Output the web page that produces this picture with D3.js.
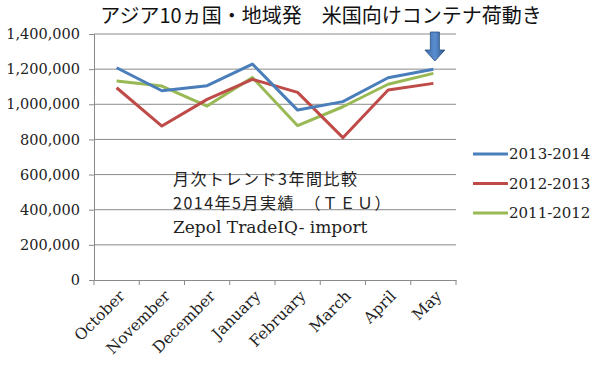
<!DOCTYPE html>
<html><head><meta charset="utf-8">
<script src="https://cdn.jsdelivr.net/npm/d3@7"></script>
<style>body{margin:0;background:#fff}</style>
</head><body><svg id="c" width="600" height="367"></svg>
<script>
const months = ["October","November","December","January","February","March","April","May"];
const s2013_2014 = [1208000,1077000,1106000,1229000,967000,1015000,1151000,1199000];
const s2012_2013 = [1094000,876000,1028000,1142000,1068000,810000,1081000,1119000];
const s2011_2012 = [1133000,1104000,990000,1153000,878000,986000,1114000,1176000];
const seriesNames = ["2013-2014","2012-2013","2011-2012"];
const seriesColors = ["#4a7ebb","#be4b48","#98b954"];
const yTicks = [0,200000,400000,600000,800000,1000000,1200000,1400000];
const title = "アジア10ヵ国・地域発　米国向けコンテナ荷動き";
const notes = ["月次トレンド3年間比較","2014年5月実績　（ＴＥＵ）","Zepol TradeIQ- import"];

const svg = d3.select("#c");
const L=94,R=456,T=34,B=280;
const x = d3.scaleBand().domain(months).range([L,R]);
const y = d3.scaleLinear().domain([0,1400000]).range([B,T]);
const serif = "'DejaVu Serif',serif";
const cjk = "'Noto Sans CJK JP',sans-serif";
const grid="#8a8a8a";

svg.append("g").selectAll("line").data(yTicks.slice(1)).join("line")
  .attr("x1",L).attr("x2",R).attr("y1",d=>y(d)).attr("y2",d=>y(d))
  .attr("stroke",grid).attr("stroke-width",1);

const ya = svg.append("g").attr("transform",`translate(${L},0)`)
  .call(d3.axisLeft(y).tickValues(yTicks).tickFormat(d3.format(",")).tickSize(5).tickPadding(9));
ya.selectAll("path,line").attr("stroke",grid);
ya.selectAll("text").attr("font-family",serif).attr("font-size",14.5).attr("fill","#222");

const xa = svg.append("g").attr("transform",`translate(0,${B})`)
  .call(d3.axisBottom(x).tickSize(0).tickPadding(0));
xa.select("path").attr("stroke",grid);
xa.selectAll(".tick line").remove();
svg.append("g").selectAll("line").data(d3.range(months.length+1)).join("line")
  .attr("x1",i=>L+i*x.step()).attr("x2",i=>L+i*x.step()).attr("y1",B).attr("y2",B+5)
  .attr("stroke",grid);
xa.selectAll(".tick text")
  .attr("font-family",serif).attr("font-size",15.5).attr("fill","#222")
  .attr("text-anchor","end").attr("dy",0)
  .attr("transform","translate(9,17) rotate(-45)");

const data=[s2013_2014,s2012_2013,s2011_2012];
const line = d3.line().x((d,i)=>x(months[i])+x.bandwidth()/2).y(d=>y(d));
[2,1,0].forEach(k=>{
  svg.append("path").datum(data[k]).attr("d",line).attr("fill","none")
    .attr("stroke",seriesColors[k]).attr("stroke-width",3).attr("stroke-linejoin","round");
});

const ax = x("May")+x.bandwidth()/2+1.5;
const defs = svg.append("defs");
const gr = defs.append("linearGradient").attr("id","ag").attr("x1",0).attr("x2",1).attr("y1",0).attr("y2",0);
gr.append("stop").attr("offset","0").attr("stop-color","#3a6aa8");
gr.append("stop").attr("offset","0.5").attr("stop-color","#5b8ed0");
gr.append("stop").attr("offset","1").attr("stop-color","#2c568e");
svg.append("path").attr("d",`M${ax-4.5},32 L${ax+4.5},32 L${ax+4.5},50 L${ax+10},50 L${ax},61 L${ax-10},50 L${ax-4.5},50 Z`)
  .attr("fill","url(#ag)").attr("stroke","#2a4f80").attr("stroke-width",0.8);

svg.append("text").attr("x",321).attr("y",23).attr("text-anchor","middle")
  .attr("font-family",cjk).attr("font-size",20).attr("fill","#111").text(title);

svg.append("g").selectAll("text").data(notes).join("text")
  .attr("x",173).attr("y",(d,i)=>185+i*24)
  .attr("font-family",(d,i)=>i==2?serif:cjk)
  .attr("letter-spacing",(d,i)=>i==2?0:1.5)
  .attr("font-size",(d,i)=>i==2?17:16).attr("fill","#222").text(d=>d);

const lg = svg.append("g").selectAll("g").data(seriesNames).join("g")
  .attr("transform",(d,i)=>`translate(473,${154+i*29.5})`);
lg.append("line").attr("x1",0).attr("x2",35).attr("stroke",(d,i)=>seriesColors[i]).attr("stroke-width",3);
lg.append("text").attr("x",36).attr("dy","0.35em").attr("font-family",serif).attr("font-size",15).attr("fill","#222").text(d=>d);
</script></body></html>
